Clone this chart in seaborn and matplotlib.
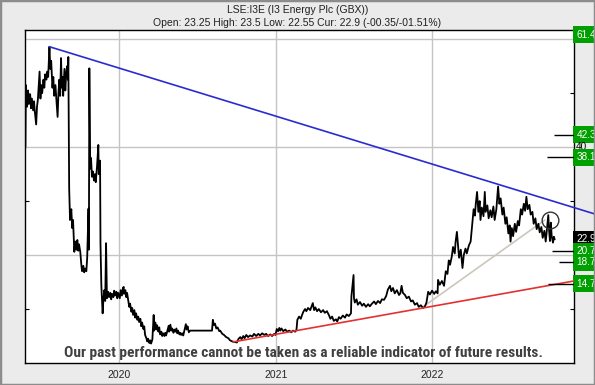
import matplotlib
matplotlib.use("Agg")
import matplotlib.pyplot as plt
import matplotlib.transforms as mtransforms
import numpy as np
import pandas as pd
import seaborn as sns
from matplotlib.patches import Rectangle

title = "LSE:I3E (I3 Energy Plc (GBX))"
subtitle = "Open: 23.25 High: 23.5 Low: 22.55 Cur: 22.9 (-00.35/-01.51%)"
disclaimer = "Our past performance cannot be taken as a reliable indicator of future results."

# price (GBX)
dates = [
    "2019-05-28", "2019-05-29", "2019-06-01", "2019-06-03", "2019-06-05", "2019-06-08", "2019-06-10",
    "2019-06-12", "2019-06-15", "2019-06-17", "2019-06-19", "2019-06-22", "2019-06-24", "2019-06-26",
    "2019-06-30", "2019-07-02", "2019-07-04", "2019-07-06", "2019-07-09", "2019-07-11", "2019-07-13",
    "2019-07-16", "2019-07-18", "2019-07-20", "2019-07-23", "2019-07-25", "2019-07-27", "2019-07-30",
    "2019-08-01", "2019-08-03", "2019-08-06", "2019-08-08", "2019-08-11", "2019-08-13", "2019-08-15",
    "2019-08-17", "2019-08-19", "2019-08-21", "2019-08-23", "2019-08-24", "2019-08-27", "2019-08-29",
    "2019-08-31", "2019-09-02", "2019-09-04", "2019-09-05", "2019-09-07", "2019-09-08", "2019-09-09",
    "2019-09-12", "2019-09-14", "2019-09-16", "2019-09-19", "2019-09-21", "2019-09-24", "2019-09-26",
    "2019-09-28", "2019-09-30", "2019-10-03", "2019-10-05", "2019-10-07", "2019-10-10", "2019-10-12",
    "2019-10-14", "2019-10-17", "2019-10-19", "2019-10-22", "2019-10-23", "2019-10-24", "2019-10-26",
    "2019-10-28", "2019-10-30", "2019-11-01", "2019-11-04", "2019-11-06", "2019-11-08", "2019-11-11",
    "2019-11-14", "2019-11-15", "2019-11-18", "2019-11-19", "2019-11-21", "2019-11-24", "2019-11-26",
    "2019-11-28", "2019-11-30", "2019-12-02", "2019-12-04", "2019-12-07", "2019-12-09", "2019-12-12",
    "2019-12-14", "2019-12-16", "2019-12-19", "2019-12-21", "2019-12-23", "2019-12-26", "2019-12-28",
    "2019-12-30",
    "2020-01-03", "2020-01-05", "2020-01-08", "2020-01-10", "2020-01-12", "2020-01-13", "2020-01-16",
    "2020-01-18", "2020-01-20", "2020-01-23", "2020-01-25", "2020-01-27", "2020-01-30", "2020-02-01",
    "2020-02-03", "2020-02-06", "2020-02-08", "2020-02-10", "2020-02-13", "2020-02-15", "2020-02-17",
    "2020-02-20", "2020-02-22", "2020-02-24", "2020-02-27", "2020-02-29", "2020-03-02", "2020-03-05",
    "2020-03-07", "2020-03-09", "2020-03-12", "2020-03-14", "2020-03-16", "2020-03-19", "2020-03-22",
    "2020-03-23", "2020-03-26", "2020-03-28", "2020-03-30", "2020-04-02", "2020-04-04", "2020-04-06",
    "2020-04-09", "2020-04-11", "2020-04-13", "2020-04-16", "2020-04-18", "2020-04-20", "2020-04-23",
    "2020-04-26", "2020-04-27", "2020-04-30", "2020-05-02", "2020-05-04", "2020-05-07", "2020-05-09",
    "2020-05-11", "2020-05-14", "2020-05-16", "2020-05-18", "2020-05-21", "2020-05-23", "2020-05-25",
    "2020-05-28", "2020-05-30", "2020-06-01", "2020-06-05", "2020-06-07", "2020-06-09", "2020-06-12",
    "2020-06-15", "2020-08-05", "2020-08-07", "2020-08-09", "2020-08-12", "2020-08-15", "2020-08-18",
    "2020-08-22", "2020-08-24", "2020-08-29", "2020-09-02", "2020-09-07", "2020-09-12", "2020-09-16",
    "2020-09-21", "2020-09-26", "2020-10-02", "2020-10-06", "2020-10-10", "2020-10-13", "2020-10-17",
    "2020-10-20", "2020-10-24", "2020-10-28", "2020-11-02", "2020-11-07", "2020-11-11", "2020-11-16",
    "2020-11-21", "2020-11-25", "2020-11-30", "2020-12-05", "2020-12-09", "2020-12-14", "2020-12-19",
    "2020-12-23", "2020-12-28", "2020-12-31",
    "2021-01-03", "2021-01-06", "2021-01-09", "2021-01-11", "2021-01-14", "2021-01-18", "2021-01-23",
    "2021-01-27", "2021-02-01", "2021-02-06", "2021-02-10", "2021-02-15", "2021-02-18", "2021-02-20",
    "2021-02-24", "2021-02-28", "2021-03-03", "2021-03-06", "2021-03-10", "2021-03-13", "2021-03-17",
    "2021-03-22", "2021-03-28", "2021-03-31", "2021-04-03", "2021-04-07", "2021-04-11", "2021-04-16",
    "2021-04-21", "2021-04-25", "2021-04-30", "2021-05-05", "2021-05-08", "2021-05-12", "2021-05-16",
    "2021-05-21", "2021-05-24", "2021-05-28", "2021-06-01", "2021-06-06", "2021-06-11", "2021-06-15",
    "2021-06-20", "2021-06-25", "2021-06-26", "2021-07-01", "2021-07-02", "2021-07-04", "2021-07-08",
    "2021-07-11", "2021-07-16", "2021-07-21", "2021-07-25", "2021-07-30", "2021-08-04", "2021-08-08",
    "2021-08-13", "2021-08-18", "2021-08-22", "2021-08-27", "2021-09-01", "2021-09-05", "2021-09-10",
    "2021-09-15", "2021-09-19", "2021-09-24", "2021-09-27", "2021-10-01", "2021-10-05", "2021-10-10",
    "2021-10-15", "2021-10-18", "2021-10-21", "2021-10-24", "2021-10-29", "2021-11-02", "2021-11-07",
    "2021-11-12", "2021-11-16", "2021-11-21", "2021-11-26", "2021-11-30", "2021-12-05", "2021-12-10",
    "2021-12-14", "2021-12-18", "2021-12-22", "2021-12-26", "2021-12-31",
    "2022-01-05", "2022-01-09", "2022-01-13", "2022-01-14", "2022-01-18", "2022-01-23", "2022-01-28",
    "2022-02-01", "2022-02-05", "2022-02-08", "2022-02-11", "2022-02-15", "2022-02-18", "2022-02-22",
    "2022-02-24", "2022-02-27", "2022-03-02", "2022-03-04", "2022-03-08", "2022-03-12", "2022-03-15",
    "2022-03-19", "2022-03-22", "2022-03-27", "2022-03-31", "2022-04-03", "2022-04-07", "2022-04-10",
    "2022-04-12", "2022-04-15", "2022-04-18", "2022-04-21", "2022-04-23", "2022-04-26", "2022-04-30",
    "2022-05-03", "2022-05-05", "2022-05-09", "2022-05-12", "2022-05-16", "2022-05-19", "2022-05-23",
    "2022-05-26", "2022-05-30", "2022-06-03", "2022-06-06", "2022-06-09", "2022-06-13", "2022-06-16",
    "2022-06-20", "2022-06-23", "2022-06-27", "2022-06-30", "2022-07-02", "2022-07-05", "2022-07-08",
    "2022-07-12", "2022-07-15", "2022-07-19", "2022-07-22", "2022-07-26", "2022-07-29", "2022-08-02",
    "2022-08-05", "2022-08-08", "2022-08-11", "2022-08-15", "2022-08-18", "2022-08-22", "2022-08-25",
    "2022-08-29", "2022-09-01", "2022-09-05", "2022-09-08", "2022-09-12", "2022-09-15", "2022-09-19",
    "2022-09-22", "2022-09-24", "2022-09-28", "2022-09-30", "2022-10-02", "2022-10-04", "2022-10-06",
    "2022-10-09", "2022-10-11", "2022-10-13",
]
prices = [
    40.0, 51.5, 47.5, 50.5, 48.0, 49.8, 47.2,
    49.0, 46.8, 48.5, 46.5, 44.2, 47.5, 48.8,
    54.0, 49.0, 51.5, 50.0, 52.5, 51.0, 53.5,
    52.5, 54.0, 53.0, 58.6, 54.5, 56.0, 51.0,
    53.0, 49.5, 51.5, 49.0, 45.6, 50.0, 52.5,
    49.5, 56.5, 51.0, 53.0, 49.5, 54.5, 50.5,
    53.5, 55.0, 52.5, 56.7, 32.3, 29.0, 26.5,
    28.5, 25.0, 26.5, 20.6, 22.5, 21.0, 22.8,
    20.8, 22.0, 20.5, 18.5, 17.0, 18.0, 16.8,
    17.5, 17.0, 19.5, 28.6, 21.0, 54.6, 36.0,
    38.0, 34.5, 35.5, 33.8, 35.0, 33.5, 36.5,
    40.4, 35.0, 37.5, 22.0, 14.4, 9.2, 12.0,
    13.5, 11.5, 22.2, 12.0, 13.2, 12.2, 13.0,
    11.8, 12.8, 12.2, 13.4, 12.5, 13.2, 12.0,
    13.0,
    12.0, 13.5, 12.5, 13.8, 14.1, 12.8, 13.5,
    12.2, 13.0, 11.5, 10.4, 11.0, 9.5, 10.2,
    8.9, 9.8, 8.4, 9.2, 8.0, 8.6, 7.6,
    8.2, 6.8, 7.5, 6.3, 6.8, 5.2, 4.6,
    4.0, 4.5, 3.7, 4.2, 3.6, 4.4, 8.9,
    6.0, 7.5, 6.2, 7.0, 5.8, 6.6, 5.3,
    5.8, 5.0, 5.5, 5.0, 5.6, 5.1, 6.0,
    6.9, 5.8, 7.1, 6.0, 6.4, 5.6, 6.2,
    5.8, 6.4, 5.5, 6.0, 5.3, 5.6, 5.2,
    5.5, 5.1, 5.8, 7.2, 6.2, 6.8, 5.7,
    6.0, 6.0, 8.0, 7.0, 7.3, 6.4, 6.6,
    5.9, 6.0, 5.4, 5.2, 4.8, 4.6, 4.2,
    4.0, 3.9, 3.8, 4.5, 4.8, 4.4, 5.0,
    4.6, 5.2, 4.8, 5.1, 4.9, 5.4, 5.0,
    5.4, 5.1, 5.5, 5.2, 5.4, 5.0, 5.3,
    5.0, 5.4, 5.2,
    6.3, 5.9, 6.5, 6.0, 6.4, 5.9, 6.2,
    5.8, 6.0, 5.7, 6.0, 5.8, 6.2, 8.0,
    8.6, 8.2, 8.9, 9.5, 10.0, 9.6, 10.2,
    9.8, 11.1, 9.8, 10.3, 9.6, 10.0, 9.4,
    9.8, 9.3, 9.6, 8.8, 8.2, 8.6, 7.8,
    8.1, 7.7, 8.5, 8.2, 8.8, 8.4, 9.0,
    8.7, 9.2, 12.3, 16.3, 12.0, 11.2, 11.8,
    10.8, 11.3, 10.6, 11.0, 10.4, 10.9, 10.5,
    11.0, 11.4, 10.9, 11.5, 11.1, 11.8, 11.7,
    12.4, 13.6, 14.3, 13.3, 13.9, 12.9, 13.5,
    12.6, 12.9, 14.3, 13.0, 12.6, 12.0, 12.3,
    11.4, 11.6, 10.8, 11.1, 10.4, 10.7, 10.2,
    10.4, 11.2, 13.2, 12.7, 13.4,
    12.8, 13.3, 12.9, 15.4, 14.5, 15.2, 14.3,
    17.0, 16.5, 19.0, 18.2, 19.7, 21.5, 20.3,
    22.5, 24.3, 21.5, 19.5, 21.0, 17.6, 20.0,
    21.2, 20.3, 21.8, 22.5, 25.0, 28.5, 27.3,
    29.5, 31.7, 28.0, 30.0, 26.5, 28.8, 27.2,
    31.7, 28.0, 29.2, 26.8, 28.3, 27.0, 29.0,
    26.5, 28.5, 32.7, 29.5, 30.5, 27.5, 28.8,
    25.8, 27.0, 24.0, 25.5, 22.5, 25.0, 23.5,
    25.8, 24.3, 26.3, 25.5, 28.5, 27.5, 29.5,
    28.2, 30.8, 28.5, 29.3, 27.5, 28.0, 25.8,
    26.8, 24.8, 25.8, 24.2, 25.2, 23.2, 24.5,
    22.5, 24.0, 27.4, 24.5, 22.6, 26.0, 23.5,
    22.3, 23.4, 22.9,
]

year_ticks = ["2020-01-01", "2021-01-01", "2022-01-01"]
year_labels = ["2020", "2021", "2022"]

# trend lines (end points)
resist_dates = ["2019-07-23", "2023-01-15"]
resist_vals = [58.6, 27.6]
support_dates = ["2020-09-23", "2022-11-27"]
support_vals = [3.9, 15.2]
rise_dates = ["2021-12-10", "2022-09-20"]
rise_vals = [10.4, 26.5]

# target levels on the right
level_vals = [42.3, 38.1, 20.7, 18.7, 14.7]
level_from = ["2022-10-11", "2022-09-25", "2022-10-07", "2022-10-23", "2022-09-27"]
label_vals = [61.4, 42.3, 40, 38.1, 22.9, 20.7, 18.7, 14.7]
label_kind = ["green", "green", "plain", "green", "black", "green", "green", "green"]

circle_date = "2022-10-02"
circle_val = 26.5

df = pd.DataFrame({"date": pd.to_datetime(dates), "price": prices})

sns.set_style("white")
plt.rcParams["font.family"] = ["Liberation Sans", "DejaVu Sans"]

fig = plt.figure(figsize=(5.95, 3.85), dpi=100, facecolor="#ebebeb")
ax = fig.add_axes([25 / 595, 22 / 385, 549 / 595, 333 / 385])
ax.set_facecolor("white")

x0, x1 = pd.Timestamp("2019-05-27"), pd.Timestamp("2022-11-27")
ax.set_xlim(x0, x1)
ax.set_ylim(0, 61.7)

for t in pd.to_datetime(year_ticks):
    ax.axvline(t, color="#c4c4c4", lw=1, zorder=0)
for v in (20, 40, 60):
    ax.axhline(v, color="#c4c4c4", lw=1, zorder=0)

sns.lineplot(data=df, x="date", y="price", color="black", lw=1.3, ax=ax, zorder=3)

ax.plot(pd.to_datetime(resist_dates), resist_vals, color="#2b2bd0", lw=1.2, clip_on=False, zorder=4)
ax.plot(pd.to_datetime(support_dates), support_vals, color="#e53030", lw=1.2, zorder=4)
ax.plot(pd.to_datetime(rise_dates), rise_vals, color="#cdc6bc", lw=1.2, zorder=2)
ax.plot(pd.Timestamp(circle_date), circle_val, marker="o", ms=12, mfc="none",
        mec="#333333", mew=1.0, zorder=5)

for v, start in zip(level_vals, level_from):
    ax.hlines(v, pd.Timestamp(start), x1, color="black", lw=1, zorder=4)

trans = mtransforms.blended_transform_factory(ax.transAxes, ax.transData)
for v, kind in zip(label_vals, label_kind):
    txt = f"{v:g}"
    va = "center"
    y = v
    if v > 61:
        y, va = 61.7, "top"
    if kind == "plain":
        ax.text(1.004, y, txt, transform=trans, ha="left", va=va, fontsize=7.2,
                color="black", clip_on=False)
    else:
        fc = "#00a000" if kind == "green" else "black"
        ax.text(1.005, y, txt, transform=trans, ha="left", va=va, fontsize=7.2,
                color="white", clip_on=False,
                bbox=dict(boxstyle="square,pad=0.35", fc=fc, ec="none"))

ax.set_xticks(pd.to_datetime(year_ticks))
ax.set_xticklabels(year_labels, fontsize=7.5)
ax.set_yticks([10, 30, 50])
ax.set_yticklabels([])
ax.tick_params(axis="x", direction="out", length=3, color="#c4c4c4", pad=2)
ax.tick_params(axis="y", direction="in", length=3, left=True, right=True, color="black")
ax.set_xlabel("")
ax.set_ylabel("")
for s in ax.spines.values():
    s.set_visible(True)
    s.set_color("black")
    s.set_linewidth(1.0)

# disclaimer: narrow bold face, fitted to the width it has in the original (~482 px)
note = ax.text(0.508, 0.03, disclaimer, transform=ax.transAxes, ha="center", va="center",
               fontsize=10, fontweight="bold", fontstretch="condensed", color="#404040",
               family=["Roboto Condensed", "Open Sans Condensed", "Liberation Sans Narrow",
                       "Liberation Sans"], zorder=6)
renderer = fig.canvas.get_renderer()
w = note.get_window_extent(renderer).width
note.set_fontsize(min(10 * 482 / w, 12))

fig.text(0.5, 1 - 10 / 385, title, ha="center", va="center", fontsize=7.5, color="#202020")
fig.text(0.5, 1 - 23 / 385, subtitle, ha="center", va="center", fontsize=7.5, color="#202020")

fig.patches.append(Rectangle((0, 0), 1, 1, transform=fig.transFigure, fill=False,
                             ec="#8c8c8c", lw=2.5))

fig.savefig("out.png", dpi=100, facecolor=fig.get_facecolor())
